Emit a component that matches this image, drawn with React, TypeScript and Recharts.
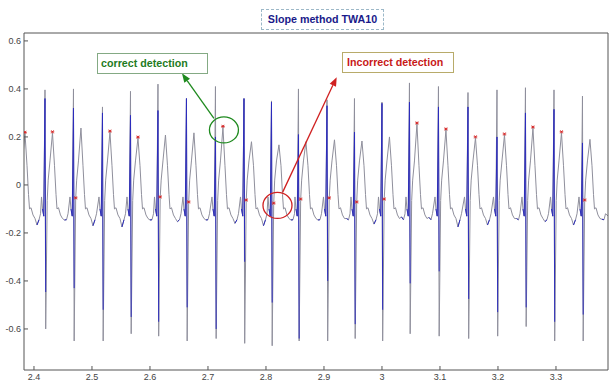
import { ComposedChart, Line, Scatter, XAxis, YAxis, ReferenceDot } from "recharts";

// time of each R spike (beat 0 sits just left of the visible window)
const BEAT_R = [2.3716, 2.419, 2.4681, 2.5181, 2.5664, 2.6138, 2.6629, 2.7129, 2.7621, 2.8095, 2.856, 2.9052, 2.9526, 3.0, 3.0474, 3.0974, 3.1483, 3.1983, 3.2474, 3.2966, 3.3457];
const R_TOP = [0.4, 0.396, 0.4, 0.325, 0.39, 0.42, 0.36, 0.41, 0.36, 0.35, 0.4, 0.355, 0.36, 0.345, 0.425, 0.41, 0.385, 0.396, 0.405, 0.396, 0.37];
const BLUE_TOP = [0.36, 0.36, 0.32, 0.3, 0.29, 0.31, 0.36, 0.2, 0.36, 0.345, 0.21, 0.33, 0.22, 0.34, 0.345, 0.325, 0.325, 0.2, 0.3, 0.315, 0.175];
const S_LOW = [-0.64, -0.6, -0.65, -0.65, -0.62, -0.63, -0.65, -0.64, -0.66, -0.67, -0.65, -0.65, -0.64, -0.65, -0.62, -0.63, -0.64, -0.63, -0.59, -0.65, -0.65];
const BLUE_LOW = [-0.5, -0.446, -0.43, -0.52, -0.55, -0.57, -0.51, -0.6, -0.32, -0.49, -0.64, -0.4, -0.58, -0.52, -0.41, -0.36, -0.475, -0.53, -0.51, -0.57, -0.54];
const ONSET = [-0.065, -0.065, -0.058, -0.065, -0.065, -0.054, -0.075, -0.065, -0.067, -0.08, -0.063, -0.058, -0.075, -0.063, -0.065, -0.065, -0.065, -0.065, -0.065, -0.065, -0.067];
const T_PEAK = [0.215, 0.217, 0.237, 0.22, 0.195, 0.208, 0.217, 0.24, 0.18, 0.167, 0.18, 0.188, 0.183, 0.2, 0.254, 0.229, 0.196, 0.208, 0.237, 0.217, 0.19];
const DIP = [-0.167, -0.146, -0.17, -0.175, -0.146, -0.153, -0.146, -0.16, -0.17, -0.146, -0.146, -0.14, -0.163, -0.133, -0.135, -0.175, -0.167, -0.14, -0.153, -0.167, -0.143];
// where the detector put its red mark: T = top of the T wave, O = onset
const MARK_AT = ["T", "T", "O", "T", "T", "O", "O", "T", "O", "O", "O", "O", "O", "O", "T", "T", "T", "T", "T", "T", "O"];

// one heartbeat, time relative to the R spike
const WAVE: { dt: number; v?: number; k?: string; blue?: boolean }[] = [
  { dt: -0.006, v: -0.05 },
  { dt: -0.0043, v: -0.1, blue: true },
  { dt: -0.0021, v: -0.13, blue: true },
  { dt: 0, k: "top" },
  { dt: 0.0012, k: "low" },
  { dt: 0.0038, k: "onset" },
  { dt: 0.0055, v: 0.02 },
  { dt: 0.0086, v: 0.1 },
  { dt: 0.0129, k: "t" },
  { dt: 0.0164, v: 0.08 },
  { dt: 0.019, v: -0.04 },
  { dt: 0.0207, v: -0.1 },
  { dt: 0.0233, v: -0.095 },
  { dt: 0.0267, v: -0.125 },
  { dt: 0.0302, v: -0.14 },
  { dt: 0.0336, k: "dip", blue: true },
  { dt: 0.0371, v: -0.145, blue: true },
  { dt: 0.0397, v: -0.12 },
];
const TAIL = { t: 3.395, v: -0.14 };

const X_DOMAIN = [2.3828, 3.3897];
const Y_DOMAIN = [-0.771, 0.633];
const X_TICKS = [2.4, 2.5, 2.6, 2.7, 2.8, 2.9, 3.0, 3.1, 3.2, 3.3];
const Y_TICKS = [-0.6, -0.4, -0.2, 0, 0.2, 0.4, 0.6];

type Row = { t: number; ecg: number; det: number | null };

const rows: Row[] = [];
BEAT_R.forEach((r, i) => {
  WAVE.forEach((w) => {
    let v = w.v ?? 0;
    let b: number | null = null;
    if (w.k === "top") {
      v = R_TOP[i];
      b = BLUE_TOP[i];
    } else if (w.k === "low") {
      v = S_LOW[i];
      b = BLUE_LOW[i];
    } else if (w.k === "onset") v = ONSET[i];
    else if (w.k === "t") v = T_PEAK[i];
    else if (w.k === "dip") v = DIP[i];
    if (w.blue) b = v;
    rows.push({ t: r + w.dt, ecg: v, det: b });
  });
});
rows.push({ t: TAIL.t, ecg: TAIL.v, det: null });
rows.sort((a, b) => a.t - b.t);

const marks = BEAT_R.map((r, i) =>
  MARK_AT[i] === "T" ? { t: r + 0.0129, m: T_PEAK[i] } : { t: r + 0.0038, m: ONSET[i] }
);

const fmtX = (v: number) => String(Math.round(v * 10) / 10);
const fmtY = (v: number) => String(v);

const Star = (p: any) => {
  const { cx, cy } = p;
  const y = cy - 1;
  return (
    <g stroke="#d42020" strokeWidth={0.9}>
      <line x1={cx - 1.8} y1={y} x2={cx + 1.8} y2={y} />
      <line x1={cx - 1.2} y1={y - 1.5} x2={cx + 1.2} y2={y + 1.5} />
      <line x1={cx - 1.2} y1={y + 1.5} x2={cx + 1.2} y2={y - 1.5} />
    </g>
  );
};

// circle around a mark plus an arrow towards its label (offsets in px)
const callout = (color: string, dx: number, dy: number, fx: number, fy: number, tx: number, ty: number) => (p: any) => {
  const { cx, cy } = p;
  const x1 = cx + fx, y1 = cy + fy, x2 = cx + tx, y2 = cy + ty;
  const ang = Math.atan2(y2 - y1, x2 - x1);
  const L = 9, W = 3.5;
  const bx = x2 - L * Math.cos(ang), by = y2 - L * Math.sin(ang);
  const head = `${x2},${y2} ${bx - W * Math.sin(ang)},${by + W * Math.cos(ang)} ${bx + W * Math.sin(ang)},${by - W * Math.cos(ang)}`;
  return (
    <g>
      <ellipse cx={cx + dx} cy={cy + dy} rx={14.5} ry={13} fill="none" stroke={color} strokeWidth={1.3} />
      <line x1={x1} y1={y1} x2={bx} y2={by} stroke={color} strokeWidth={1.3} />
      <polygon points={head} fill={color} />
    </g>
  );
};

const boxBase = {
  position: "absolute" as const,
  boxSizing: "border-box" as const,
  height: 21,
  lineHeight: "19px",
  fontWeight: 700,
  fontSize: 10.7,
  background: "#fff",
  whiteSpace: "nowrap" as const,
};

export default function App() {
  return (
    <div
      style={{
        position: "fixed",
        left: 0,
        top: 0,
        width: 609,
        height: 385,
        overflow: "hidden",
        background: "#fff",
        fontFamily: "'Liberation Sans', Arial, sans-serif",
      }}
    >
      <ComposedChart width={609} height={385} margin={{ top: 32, right: 0, bottom: 14, left: 23 }}>
        <XAxis
          xAxisId="b"
          type="number"
          dataKey="t"
          domain={X_DOMAIN}
          allowDataOverflow
          ticks={X_TICKS}
          tickFormatter={fmtX}
          height={1}
          tickSize={-4}
          tickMargin={8}
          stroke="#555"
          tick={{ fontSize: 9, fill: "#444" }}
        />
        <XAxis
          xAxisId="top"
          orientation="top"
          type="number"
          domain={X_DOMAIN}
          allowDataOverflow
          ticks={X_TICKS}
          tick={false}
          height={1}
          tickSize={-4}
          stroke="#555"
        />
        <YAxis
          yAxisId="l"
          type="number"
          domain={Y_DOMAIN}
          allowDataOverflow
          ticks={Y_TICKS}
          tickFormatter={fmtY}
          width={1}
          tickSize={-4}
          tickMargin={7}
          stroke="#555"
          tick={{ fontSize: 9, fill: "#444" }}
        />
        <YAxis
          yAxisId="r"
          orientation="right"
          type="number"
          domain={Y_DOMAIN}
          allowDataOverflow
          ticks={Y_TICKS}
          tick={false}
          width={1}
          tickSize={-4}
          stroke="#555"
        />
        <Line
          xAxisId="b"
          yAxisId="l"
          data={rows}
          dataKey="ecg"
          type="linear"
          stroke="#8f8f9c"
          strokeWidth={1}
          dot={false}
          isAnimationActive={false}
        />
        <Line
          xAxisId="b"
          yAxisId="l"
          data={rows}
          dataKey="det"
          type="linear"
          stroke="#2c2cbc"
          strokeWidth={1}
          dot={false}
          connectNulls={false}
          isAnimationActive={false}
        />
        <Scatter
          xAxisId="b"
          yAxisId="l"
          data={marks}
          dataKey="m"
          shape={Star}
          isAnimationActive={false}
        />
        <ReferenceDot
          xAxisId="b"
          yAxisId="l"
          x={BEAT_R[7] + 0.0129}
          y={T_PEAK[7]}
          r={0}
          shape={callout("#1f8a1f", 1, 2.6, -9, -9, -41, -54)}
        />
        <ReferenceDot
          xAxisId="b"
          yAxisId="l"
          x={BEAT_R[9] + 0.0038}
          y={ONSET[9]}
          r={0}
          shape={callout("#d02020", 3.8, 1.3, 9, -12, 63, -127)}
        />
      </ComposedChart>

      <div
        style={{
          ...boxBase,
          left: 261,
          top: 9,
          width: 123,
          border: "1px dashed #9cb8c8",
          color: "#1a1a8a",
          textAlign: "center",
        }}
      >
        Slope method TWA10
      </div>
      <div
        style={{
          ...boxBase,
          left: 97,
          top: 53,
          width: 111,
          border: "1px solid #84aa84",
          color: "#1e7b1e",
          paddingLeft: 3,
        }}
      >
        correct detection
      </div>
      <div
        style={{
          ...boxBase,
          left: 342,
          top: 52,
          width: 112,
          border: "1px solid #b8ab6a",
          color: "#c81818",
          paddingLeft: 4,
        }}
      >
        Incorrect detection
      </div>
    </div>
  );
}
